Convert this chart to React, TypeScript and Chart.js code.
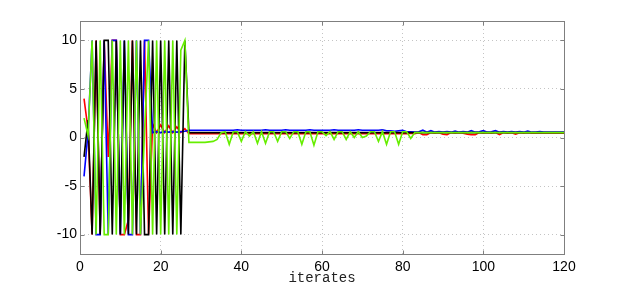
import React, { useEffect, useRef } from "react";
import { Chart, registerables } from "chart.js";

Chart.register(...registerables);

const iterates = Array.from({ length: 120 }, (_, i) => i + 1);

const xTicks = [0, 20, 40, 60, 80, 100, 120];
const yTicks = [-10, -5, 0, 5, 10];

const redSeries = [
  4, 0.8, -10, 10, -10, 10, -2, 10, 10, -10,
  -10, -8.5, 10, -10, -10, 10, -10, 1.4, 0.5, 1.3,
  0.5, 1.2, 0.5, 1.1, 0.5, 0.9, 0.4, 0.4, 0.4, 0.4,
  0.4, 0.4, 0.4, 0.4, 0.4, 0.4, 0.4, 0.4, 0.4, 0.4,
  0.4, 0.4, 0.4, 0.4, 0.4, 0.4, 0.4, 0.4, 0.4, 0.4,
  0.4, 0.4, 0.4, 0.4, 0.4, 0.4, 0.4, 0.4, 0.4, 0.4,
  0.4, 0.4, 0.4, 0.4, 0.4, 0.4, 0.4, 0.4, 0.4, 0.4,
  0.4, 0.4, 0.4, 0.4, 0.4, 0.4, 0.4, 0.4, 0.4, 0.4,
  0.4, 0.45, 0.4, 0.5, 0.3, 0.3, 0.5, 0.45, 0.5, 0.35,
  0.3, 0.5, 0.45, 0.5, 0.45, 0.35, 0.3, 0.3, 0.5, 0.45,
  0.5, 0.45, 0.5, 0.3, 0.5, 0.45, 0.5, 0.35, 0.5, 0.45,
  0.5, 0.45, 0.45, 0.45, 0.45, 0.45, 0.45, 0.45, 0.45, 0.45,
];

const blueSeries = [
  -4, 0.5, 10, -10, -10, 10, -10, 10, 10, -10,
  10, -10, -10, 10, -10, 10, 10, 0.5, 0.6, 0.5,
  0.6, 0.55, 0.6, 0.55, 0.6, 0.65, 0.75, 0.75, 0.75, 0.75,
  0.75, 0.75, 0.75, 0.75, 0.75, 0.75, 0.75, 0.75, 0.8, 0.75,
  0.75, 0.75, 0.75, 0.75, 0.75, 0.8, 0.75, 0.75, 0.75, 0.75,
  0.8, 0.75, 0.75, 0.75, 0.75, 0.75, 0.8, 0.75, 0.75, 0.75,
  0.75, 0.75, 0.8, 0.75, 0.75, 0.75, 0.75, 0.75, 0.8, 0.75,
  0.75, 0.75, 0.75, 0.75, 0.8, 0.7, 0.7, 0.65, 0.7, 0.75,
  0.6, 0.6, 0.55, 0.6, 0.75, 0.55, 0.7, 0.55, 0.6, 0.55,
  0.6, 0.55, 0.65, 0.55, 0.6, 0.55, 0.7, 0.55, 0.6, 0.7,
  0.55, 0.6, 0.7, 0.55, 0.6, 0.55, 0.6, 0.55, 0.6, 0.55,
  0.65, 0.55, 0.55, 0.6, 0.55, 0.55, 0.55, 0.55, 0.55, 0.55,
];

const blackSeries = [
  -2, 1.8, -10, 10, -10, 10, 10, -10, 10, -10,
  10, -10, 10, -10, 10, -10, -10, 10, -10, 10,
  -10, 10, -10, 10, -10, 10, 0.5, 0.5, 0.5, 0.5,
  0.5, 0.5, 0.5, 0.5, 0.5, 0.5, 0.5, 0.5, 0.5, 0.5,
  0.5, 0.5, 0.5, 0.5, 0.5, 0.5, 0.5, 0.5, 0.5, 0.5,
  0.5, 0.5, 0.5, 0.5, 0.5, 0.5, 0.5, 0.5, 0.5, 0.5,
  0.5, 0.5, 0.5, 0.5, 0.5, 0.5, 0.5, 0.5, 0.5, 0.5,
  0.5, 0.5, 0.5, 0.5, 0.5, 0.5, 0.5, 0.5, 0.5, 0.5,
  0.5, 0.5, 0.5, 0.5, 0.5, 0.5, 0.5, 0.5, 0.5, 0.5,
  0.5, 0.5, 0.5, 0.5, 0.5, 0.5, 0.5, 0.5, 0.5, 0.5,
  0.5, 0.5, 0.5, 0.5, 0.5, 0.5, 0.5, 0.5, 0.5, 0.5,
  0.5, 0.5, 0.5, 0.5, 0.5, 0.5, 0.5, 0.5, 0.5, 0.5,
];

const greenSeries = [
  2, 0.2, 10, -10, 10, -10, -10, 10, -10, 10,
  -10, 10, -10, 10, -10, 0.6, 10, -10, 10, -10,
  10, -10, 10, -10, 9, 10, -0.5, -0.5, -0.5, -0.5,
  -0.5, -0.45, -0.4, -0.2, 0.5, 0.6, -0.7, 0.6, 0.6, -0.4,
  0.6, 0.15, 0.6, -0.6, 0.6, -0.6, 0.6, 0.6, -0.4, 0.6,
  0.6, -0.1, 0.6, 0.6, -0.7, 0.6, 0.6, -0.8, 0.6, 0.6,
  0.2, 0.6, -0.2, 0.6, 0.6, -0.2, 0.6, 0.0, 0.6, 0.0,
  0.15, 0.6, 0.6, -0.4, 0.6, -0.7, 0.6, 0.6, -0.7, 0.6,
  0.6, -0.1, 0.5, 0.5, 0.5, 0.5, 0.5, 0.5, 0.5, 0.5,
  0.5, 0.5, 0.5, 0.5, 0.5, 0.5, 0.5, 0.5, 0.5, 0.5,
  0.5, 0.5, 0.5, 0.5, 0.5, 0.5, 0.5, 0.5, 0.5, 0.5,
  0.5, 0.5, 0.5, 0.5, 0.5, 0.5, 0.5, 0.5, 0.5, 0.5,
];

const toPoints = (vals: number[]) => vals.map((y, i) => ({ x: iterates[i], y }));

const boxPlugin = {
  id: "matlabBox",
  afterDatasetsDraw(chart: any) {
    const { ctx, chartArea: a, scales } = chart;
    ctx.save();
    ctx.strokeStyle = "#7f7f7f";
    ctx.lineWidth = 1;
    const L = Math.round(a.left) + 0.5;
    const R = Math.round(a.right) + 0.5;
    const T = Math.round(a.top) + 0.5;
    const B = Math.round(a.bottom) + 0.5;
    ctx.strokeRect(L, T, R - L, B - T);
    const tl = 4;
    ctx.beginPath();
    xTicks.forEach((v) => {
      const px = Math.round(scales.x.getPixelForValue(v)) + 0.5;
      ctx.moveTo(px, B);
      ctx.lineTo(px, B - tl);
      ctx.moveTo(px, T);
      ctx.lineTo(px, T + tl);
    });
    yTicks.forEach((v) => {
      const py = Math.round(scales.y.getPixelForValue(v)) + 0.5;
      ctx.moveTo(L, py);
      ctx.lineTo(L + tl, py);
      ctx.moveTo(R, py);
      ctx.lineTo(R - tl, py);
    });
    ctx.stroke();
    ctx.restore();
  },
};

export default function App() {
  const ref = useRef<HTMLCanvasElement | null>(null);
  useEffect(() => {
    if (!ref.current) return;
    const lw = 1.6;
    const chart = new Chart(ref.current, {
      type: "line",
      data: {
        datasets: [
          { label: "red", data: toPoints(redSeries), borderColor: "#ff0000", borderWidth: lw, pointRadius: 0, order: 4 },
          { label: "blue", data: toPoints(blueSeries), borderColor: "#0000ff", borderWidth: lw, pointRadius: 0, order: 3 },
          { label: "black", data: toPoints(blackSeries), borderColor: "#000000", borderWidth: lw, pointRadius: 0, order: 2 },
          { label: "green", data: toPoints(greenSeries), borderColor: "#66ee00", borderWidth: lw, pointRadius: 0, order: 1 },
        ],
      },
      options: {
        animation: false,
        responsive: false,
        devicePixelRatio: 1,
        layout: { padding: { top: 21, right: 59, left: 0, bottom: 0 } },
        plugins: { legend: { display: false }, tooltip: { enabled: false } },
        elements: { line: { tension: 0 } },
        scales: {
          x: {
            type: "linear",
            min: 0,
            max: 120,
            afterBuildTicks: (s: any) => {
              s.ticks = xTicks.map((v) => ({ value: v }));
            },
            afterFit: (s: any) => {
              s.height = 33;
            },
            ticks: {
              color: "#000",
              font: { family: "'Liberation Sans', Arial, sans-serif", size: 14 },
              padding: 5,
              maxRotation: 0,
              autoSkip: false,
            },
            grid: { color: "#c4c4c4", lineWidth: 1, drawTicks: false },
            border: { display: false, dash: [1, 3] },
            title: {
              display: true,
              text: "iterates",
              color: "#222",
              font: { family: "'Liberation Mono', 'DejaVu Sans Mono', monospace", size: 14 },
              padding: 0,
            },
          },
          y: {
            type: "linear",
            min: -12,
            max: 12,
            afterBuildTicks: (s: any) => {
              s.ticks = yTicks.map((v) => ({ value: v }));
            },
            afterFit: (s: any) => {
              s.width = 80;
            },
            ticks: {
              color: "#000",
              font: { family: "'Liberation Sans', Arial, sans-serif", size: 14 },
              padding: 3,
              autoSkip: false,
            },
            grid: { color: "#c4c4c4", lineWidth: 1, drawTicks: false },
            border: { display: false, dash: [1, 3] },
          },
        },
      },
      plugins: [boxPlugin],
    });
    return () => chart.destroy();
  }, []);
  return (
    <div style={{ position: "fixed", left: 0, top: 0, width: 623, height: 287, background: "#fff" }}>
      <canvas ref={ref} width={623} height={287} style={{ display: "block" }} />
    </div>
  );
}
